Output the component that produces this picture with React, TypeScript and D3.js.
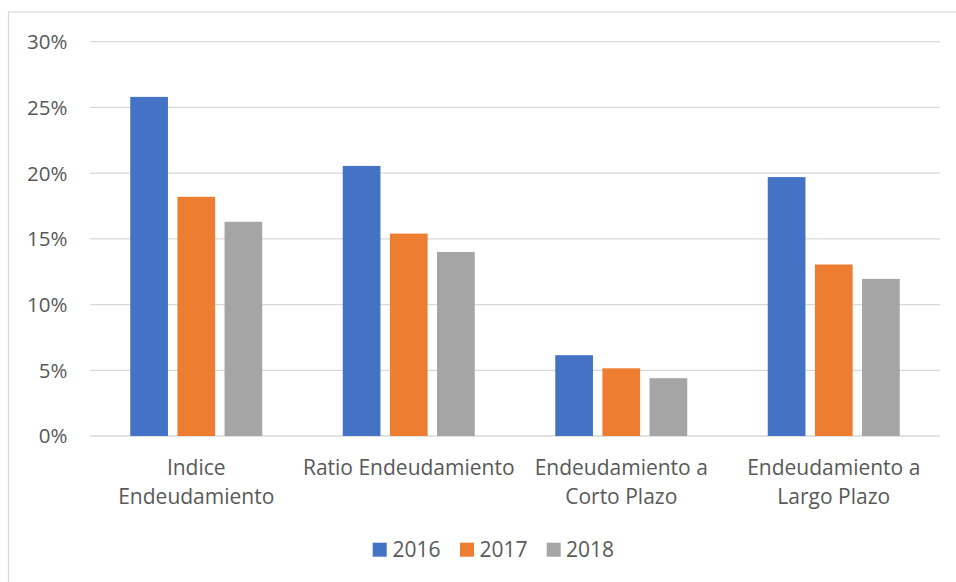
import React from "react";
import * as d3 from "d3";

const categories = [
  ["Indice", "Endeudamiento"],
  ["Ratio Endeudamiento"],
  ["Endeudamiento a", "Corto Plazo"],
  ["Endeudamiento a", "Largo Plazo"],
];
const seriesNames = ["2016", "2017", "2018"];
const values2016 = [25.8, 20.55, 6.15, 19.7];
const values2017 = [18.2, 15.4, 5.15, 13.05];
const values2018 = [16.3, 14.0, 4.4, 11.95];
const yTicks = [0, 5, 10, 15, 20, 25, 30];
const colors = ["#4472C4", "#ED7D31", "#A5A5A5"];

const W = 956;
const H = 582;
const FONT = "'Open Sans', sans-serif";

export default function App() {
  const series = [values2016, values2017, values2018];
  const left = 90;
  const right = 940;
  const top = 41.7;
  const bottom = 436;
  const y = d3.scaleLinear().domain([0, 30]).range([bottom, top]);
  const x0 = d3
    .scaleBand<number>()
    .domain(d3.range(categories.length))
    .range([left, right])
    .paddingInner(0)
    .paddingOuter(0);
  const groupW = 132;
  const x1 = d3
    .scaleBand<number>()
    .domain(d3.range(seriesNames.length))
    .range([0, groupW])
    .paddingInner(0.2)
    .paddingOuter(0);
  const offset = (x0.bandwidth() - groupW) / 2;

  const legendItems = [
    { x: 372.7, tx: 392.5 },
    { x: 460, tx: 479.5 },
    { x: 546.7, tx: 566 },
  ];

  return (
    <svg
      width={W}
      height={H}
      style={{ position: "absolute", left: 0, top: 0, background: "#fff" }}
      fontFamily={FONT}
    >
      <rect x={0} y={0} width={W} height={H} fill="#fff" />
      <rect x={8.5} y={12} width={980} height={620} fill="none" stroke="#d9d9d9" strokeWidth={1.2} />
      {yTicks.map((t) => (
        <g key={t}>
          <line x1={left} x2={right} y1={y(t)} y2={y(t)} stroke="#d9d9d9" strokeWidth={1.3} />
          <text
            x={67.5}
            y={y(t)}
            dy="0.36em"
            textAnchor="end"
            fontSize={20.5}
            fill="#595959"
          >
            {t}%
          </text>
        </g>
      ))}
      {categories.map((_, ci) =>
        series.map((vals, si) => (
          <rect
            key={`${ci}-${si}`}
            x={(x0(ci) as number) + offset + (x1(si) as number)}
            y={y(vals[ci])}
            width={x1.bandwidth()}
            height={y(0) - y(vals[ci])}
            fill={colors[si]}
          />
        ))
      )}
      {categories.map((lines, ci) => (
        <text
          key={ci}
          x={(x0(ci) as number) + x0.bandwidth() / 2}
          y={475}
          textAnchor="middle"
          fontSize={21}
          fill="#595959"
        >
          {lines.map((l, li) => (
            <tspan key={li} x={(x0(ci) as number) + x0.bandwidth() / 2} dy={li === 0 ? 0 : 29}>
              {l}
            </tspan>
          ))}
        </text>
      ))}
      {seriesNames.map((n, i) => (
        <g key={n}>
          <rect x={legendItems[i].x} y={542.7} width={14} height={14} fill={colors[i]} />
          <text x={legendItems[i].tx} y={549.7} dy="0.36em" fontSize={21} fill="#595959">
            {n}
          </text>
        </g>
      ))}
    </svg>
  );
}
